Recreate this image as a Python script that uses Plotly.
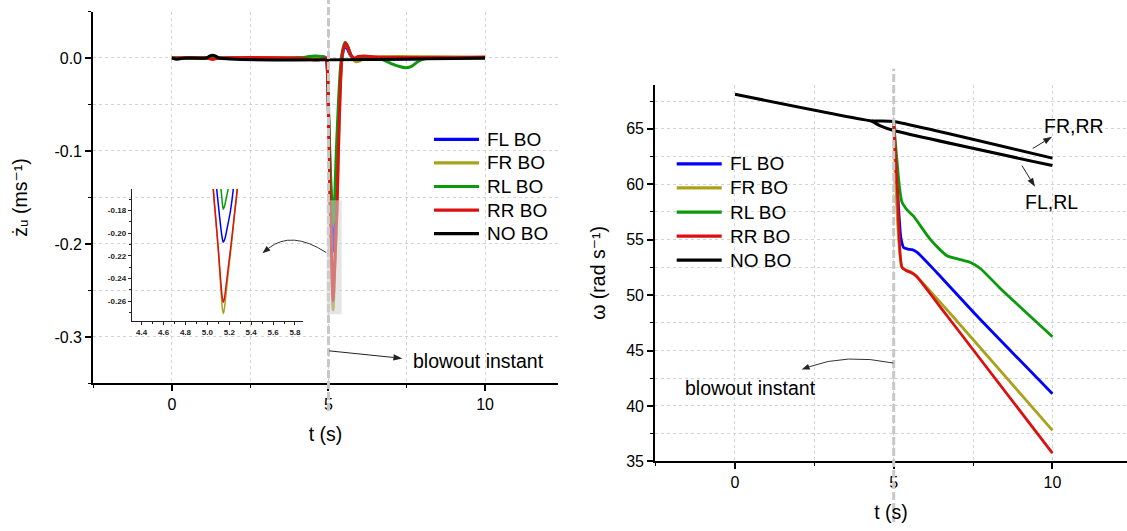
import math
import plotly.graph_objects as go

W, H = 1127, 531

# ---------------- data: left panel (unsprung-mass vertical velocity, m/s) ----------------
t_fl_z = [0, 1.0, 4.0, 4.5, 4.9, 4.95, 5.0, 5.04, 5.085, 5.10, 5.12, 5.135, 5.145, 5.16, 5.18, 5.21, 5.237,
          5.28, 5.33, 5.40, 5.45, 5.53, 5.60, 5.70, 5.80, 6.0, 7.0, 8.0, 8.2, 10]
z_fl = [0, 0, 0, 0.001, 0.0005, -0.005, -0.06, -0.11, -0.161, -0.175, -0.193, -0.204, -0.208, -0.205, -0.196,
        -0.181, -0.161, -0.11, -0.06, -0.012, 0.004, 0.012, 0.010, 0.003, -0.001, -0.001, -0.001, -0.001, 0, 0]

t_fr_z = [0, 4.0, 4.9, 4.95, 5.0, 5.03, 5.054, 5.08, 5.10, 5.12, 5.135, 5.145, 5.155, 5.17, 5.19, 5.22, 5.25,
          5.273, 5.31, 5.36, 5.42, 5.47, 5.55, 5.65, 5.75, 5.88, 6.0, 6.15, 10]
z_fr = [0, 0, 0, -0.004, -0.06, -0.11, -0.161, -0.192, -0.216, -0.245, -0.265, -0.271, -0.267, -0.254, -0.236,
        -0.21, -0.182, -0.161, -0.11, -0.05, -0.003, 0.009, 0.015, 0.009, 0.0, -0.004, -0.003, 0, 0]

t_rl_z = [0, 4.0, 4.3, 4.55, 4.8, 4.92, 4.97, 5.02, 5.06, 5.10, 5.124, 5.135, 5.145, 5.16, 5.175, 5.19, 5.24,
          5.31, 5.38, 5.44, 5.53, 5.62, 5.72, 5.82, 6.0, 6.5, 6.75, 7.0, 7.25, 7.45, 7.65, 7.85, 8.05, 8.3, 10]
z_rl = [0, 0, 0.001, 0.0022, 0.0015, 0.0, -0.02, -0.075, -0.12, -0.15, -0.161, -0.172, -0.179, -0.175, -0.168,
        -0.161, -0.11, -0.054, -0.012, 0.006, 0.017, 0.012, 0.003, -0.001, 0, 0, -0.002, -0.006, -0.009, -0.0105,
        -0.009, -0.004, -0.001, 0, 0]

t_rr_z = [0, 1.1, 1.3, 1.5, 4.0, 4.3, 4.55, 4.8, 4.92, 4.96, 5.0, 5.03, 5.054, 5.08, 5.10, 5.12, 5.135, 5.145,
          5.155, 5.17, 5.19, 5.22, 5.25, 5.273, 5.31, 5.36, 5.42, 5.47, 5.55, 5.63, 5.72, 5.82, 5.95, 6.2, 6.5, 10]
z_rr = [0, 0, -0.0015, 0, 0, -0.001, -0.0022, -0.0015, 0, -0.01, -0.06, -0.11, -0.161, -0.191, -0.214, -0.240,
        -0.256, -0.261, -0.258, -0.247, -0.231, -0.207, -0.181, -0.161, -0.11, -0.05, -0.003, 0.009, 0.016, 0.011,
        0.003, 0.0, 0.0015, 0.002, 0.001, 0.001]

t_no_z = [0, 0.1, 0.2, 0.3, 0.45, 1.1, 1.2, 1.3, 1.4, 1.5, 10]
z_no = [0, -0.0012, -0.0012, -0.0005, 0, 0, 0.002, 0.003, 0.002, 0, 0]

# ---------------- data: right panel (wheel angular speed, rad/s) ----------------
t_fl_w = [5.0, 5.22, 5.27, 5.31, 5.45, 5.58, 5.74, 6.37, 7.58, 10.0]
w_fl = [65.6, 55.3, 54.6, 54.3, 54.15, 54.1, 53.85, 52.0, 48.25, 41.1]

t_fr_w = [5.0, 5.26, 5.4, 5.54, 5.7, 6.81, 10.0]
w_fr = [65.6, 52.55, 52.25, 52.08, 51.75, 48.25, 37.8]

t_rl_w = [5.0, 5.18, 5.26, 5.42, 5.63, 6.16, 6.68, 7.1, 7.42, 7.73, 8.36, 10.0]
w_rl = [65.6, 59.8, 58.4, 57.7, 57.1, 55.0, 53.55, 53.2, 52.95, 52.4, 50.6, 46.25]

t_rr_w = [5.0, 5.12, 5.26, 5.4, 5.54, 5.7, 6.65, 10.0]
w_rr = [65.6, 59.2, 52.5, 52.2, 52.05, 51.75, 48.25, 35.75]

t_no_w_right = [0, 4.3, 4.6, 5.0, 10.0]          # FR,RR wheels without blowout
w_no_right = [68.12, 65.72, 65.72, 65.67, 62.36]
t_no_w_left = [4.3, 4.6, 5.0, 10.0]               # FL,RL wheels without blowout
w_no_left = [65.72, 65.24, 64.85, 61.69]

# ---------------- labels / ticks ----------------
names = ["FL BO", "FR BO", "RL BO", "RR BO", "NO BO"]
x_ticks = [0, 5, 10]
zl_ticks = [-0.3, -0.2, -0.1, 0.0]
zl_text = ["-0.3", "-0.2", "-0.1", "0.0"]
w_ticks = [35, 40, 45, 50, 55, 60, 65]
inset_x_ticks = [4.4, 4.6, 4.8, 5.0, 5.2, 5.4, 5.6, 5.8]
inset_x_text = ["4.4", "4.6", "4.8", "5.0", "5.2", "5.4", "5.6", "5.8"]
inset_y_ticks = [-0.26, -0.24, -0.22, -0.20, -0.18]
inset_y_text = ["-0.26", "-0.24", "-0.22", "-0.20", "-0.18"]
blowout_label = "blowout instant"
side_labels = ["FR,RR", "FL,RL"]
x_title = "t (s)"
left_y_title = "\u017c\u1d64 (ms\u207b\u00b9)"
right_y_title = "\u03c9 (rad s\u207b\u00b9)"

# ---------------- styles / geometry ----------------
COL = {"FL BO": "#0000ff", "FR BO": "#aaa21c", "RL BO": "#0c990c", "RR BO": "#dd1010", "NO BO": "#000000"}
FONT = "Liberation Sans, Arial, DejaVu Sans, sans-serif"
GRID = "#d4d4d4"

L_XDOM, L_YDOM = (93, 558), (390, 11.7)        # pixel box of left panel
R_XDOM, R_YDOM = (655, 1127), (469.3, 86)      # pixel box of right panel
L_XR, L_YR = (-2.52, 12.33), (-0.35, 0.05)
R_XR, R_YR = (-2.52, 12.35), (35, 69)


def px(x):
    return x / W


def py(y):
    return 1 - y / H


def to_px(panel, t, v):
    xd, yd, xr, yr = (L_XDOM, L_YDOM, L_XR, L_YR) if panel == "L" else (R_XDOM, R_YDOM, R_XR, R_YR)
    X = xd[0] + (t - xr[0]) / (xr[1] - xr[0]) * (xd[1] - xd[0])
    Y = yd[0] - (v - yr[0]) / (yr[1] - yr[0]) * (yd[0] - yd[1])
    return X, Y


fig = go.Figure()

left = [("FL BO", t_fl_z, z_fl), ("FR BO", t_fr_z, z_fr), ("RL BO", t_rl_z, z_rl),
        ("RR BO", t_rr_z, z_rr), ("NO BO", t_no_z, z_no)]
for name, t, v in left:
    fig.add_trace(go.Scatter(x=t, y=v, name=name, mode="lines", xaxis="x", yaxis="y", showlegend=False,
                             line=dict(color=COL[name], width=3, shape="spline", smoothing=0.8)))
for name, t, v in left[:4]:
    fig.add_trace(go.Scatter(x=t, y=v, name=name, mode="lines", xaxis="x3", yaxis="y3", showlegend=False,
                             line=dict(color=COL[name], width=1.5, shape="spline", smoothing=0.8)))

fig.add_trace(go.Scatter(x=t_no_w_right, y=w_no_right, name="NO BO", mode="lines", xaxis="x2", yaxis="y2",
                         showlegend=False, line=dict(color="#000000", width=3, shape="spline", smoothing=0.5)))
fig.add_trace(go.Scatter(x=t_no_w_left, y=w_no_left, name="NO BO", mode="lines", xaxis="x2", yaxis="y2",
                         showlegend=False, line=dict(color="#000000", width=3, shape="spline", smoothing=0.5)))
right = [("FL BO", t_fl_w, w_fl), ("FR BO", t_fr_w, w_fr), ("RL BO", t_rl_w, w_rl), ("RR BO", t_rr_w, w_rr)]
for name, t, v in right:
    fig.add_trace(go.Scatter(x=t, y=v, name=name, mode="lines", xaxis="x2", yaxis="y2", showlegend=False,
                             line=dict(color=COL[name], width=2.8, shape="spline", smoothing=0.6)))

axis_common = dict(showline=True, linecolor="black", linewidth=1.6, ticks="outside", ticklen=6, tickwidth=1.5,
                   tickcolor="black", showgrid=True, gridcolor=GRID, griddash="3px,3px", gridwidth=1,
                   zeroline=False, tickfont=dict(size=16, color="black"))
minor_common = dict(ticks="outside", ticklen=3, tickwidth=1.2, tickcolor="black", showgrid=True,
                    gridcolor=GRID, griddash="3px,3px", gridwidth=1)

fig.update_layout(
    width=W, height=H, margin=dict(l=0, r=0, t=0, b=0),
    paper_bgcolor="white", plot_bgcolor="rgba(0,0,0,0)",
    font=dict(family=FONT, color="black"), showlegend=False,
    xaxis=dict(domain=[px(L_XDOM[0]), px(L_XDOM[1])], range=list(L_XR), anchor="y", tickmode="array",
               tickvals=x_ticks, minor=dict(tickmode="linear", tick0=0, dtick=2.5, **minor_common),
               title=dict(text=x_title, font=dict(size=19.5), standoff=15), **axis_common),
    yaxis=dict(domain=[py(L_YDOM[0]), py(L_YDOM[1])], range=list(L_YR), anchor="x", tickmode="array",
               tickvals=zl_ticks, ticktext=zl_text,
               minor=dict(tickmode="linear", tick0=0, dtick=0.05, **minor_common),
               title=dict(text=left_y_title, font=dict(size=19.5), standoff=22), **axis_common),
    xaxis2=dict(domain=[px(R_XDOM[0]), 1.0], range=list(R_XR), anchor="y2", tickmode="array", tickvals=x_ticks,
                minor=dict(tickmode="linear", tick0=0, dtick=2.5, **minor_common),
                title=dict(text=x_title, font=dict(size=19.5), standoff=15), **axis_common),
    yaxis2=dict(domain=[py(R_YDOM[0]), py(R_YDOM[1])], range=list(R_YR), anchor="x2", tickmode="array",
                tickvals=w_ticks, minor=dict(tickmode="linear", tick0=0, dtick=2.5, **minor_common),
                title=dict(text=right_y_title, font=dict(size=19.5), standoff=15), **axis_common),
    xaxis3=dict(domain=[px(131.7), px(303.3)], range=[4.309, 5.876], anchor="y3", showline=True,
                linecolor="#222", linewidth=1, ticks="outside", ticklen=3, tickwidth=1, tickcolor="#222",
                showgrid=False, zeroline=False, tickmode="array", tickvals=inset_x_ticks, ticktext=inset_x_text,
                minor=dict(tickmode="linear", tick0=4.3, dtick=0.1, ticks="outside", ticklen=2, tickcolor="#222",
                           showgrid=False),
                tickfont=dict(size=8, color="#222", weight="bold")),
    yaxis3=dict(domain=[py(326.7), py(192.3)], range=[-0.2777, -0.1612], anchor="x3", showline=True,
                linecolor="#222", linewidth=1, ticks="outside", ticklen=3, tickwidth=1, tickcolor="#222",
                showgrid=False, zeroline=False, tickmode="array", tickvals=inset_y_ticks, ticktext=inset_y_text,
                minor=dict(tickmode="linear", tick0=-0.27, dtick=0.01, ticks="outside", ticklen=2,
                           tickcolor="#222", showgrid=False),
                tickfont=dict(size=8, color="#222", weight="bold")),
)

shapes = [
    dict(type="line", xref="x", yref="paper", x0=5, x1=5, y0=py(418), y1=1.0,
         line=dict(color="#c8c8c8", width=3, dash="8px,3px"), layer="above"),
    dict(type="line", xref="x2", yref="paper", x0=5, x1=5, y0=0.0, y1=py(70),
         line=dict(color="#c8c8c8", width=3, dash="8px,3px"), layer="above"),
    dict(type="rect", xref="x", yref="y", x0=4.94, x1=5.42, y0=-0.2756, y1=-0.1531,
         fillcolor="#cfcfcf", opacity=0.55, line=dict(width=0), layer="above"),
]
annotations = []

# ---- hand-drawn legends (long line samples, tight rows as in the reference) ----
legend_boxes = [
    # (series drawn, line x0, line x1, text x, first row y, row step, font size)
    (names, 434, 479, 485, 141.7, 24.0, 19),
    (names, 676.7, 721.7, 727.5, 166.7, 24.5, 19),
]
for labels, lx0, lx1, tx, y0, step, fs in legend_boxes:
    for i, name in enumerate(labels):
        yy = y0 + i * step
        shapes.append(dict(type="line", xref="paper", yref="paper", x0=px(lx0), x1=px(lx1), y0=py(yy), y1=py(yy),
                           line=dict(color=COL[name], width=3.2)))
        annotations.append(dict(x=px(tx), y=py(yy), xref="paper", yref="paper", text=name, showarrow=False,
                                xanchor="left", yanchor="middle", font=dict(size=fs, color="black", family=FONT)))


def arrow_head(tipX, tipY, dX, dY, length=9, half=3.5):
    n = math.hypot(dX, dY)
    ux, uy = dX / n, dY / n
    bx, by = tipX - ux * length, tipY - uy * length
    nx, ny = -uy, ux
    pts = [(tipX, tipY), (bx + nx * half, by + ny * half), (bx - nx * half, by - ny * half)]
    path = "M " + " L ".join(f"{px(a):.5f},{py(b):.5f}" for a, b in pts) + " Z"
    shapes.append(dict(type="path", xref="paper", yref="paper", path=path, fillcolor="#222",
                       line=dict(width=0)))
    return bx, by


# straight arrows: (panel, tail, tip)
straight_arrows = [
    ("L", (5.02, -0.315), (7.36, -0.3231)),
    ("R", (9.38, 63.23), (9.99, 64.29)),
    ("R", (9.04, 61.69), (9.45, 59.77)),
]
for panel, tail, tip in straight_arrows:
    tX, tY = to_px(panel, *tail)
    hX, hY = to_px(panel, *tip)
    bx, by = arrow_head(hX, hY, hX - tX, hY - tY, length=9, half=3.2)
    shapes.append(dict(type="line", xref="paper", yref="paper", x0=px(tX), y0=py(tY), x1=px(bx), y1=py(by),
                       line=dict(color="#222", width=1)))

# curved arrows: (panel, start, control, tip)
curved_arrows = [
    ("L", (4.93, -0.2093), (3.814, -0.1849), (2.89, -0.2101)),
    ("R", (4.99, 43.87), (3.495, 44.76), (2.10, 43.28)),
]
for panel, s, c, e in curved_arrows:
    sX, sY = to_px(panel, *s)
    cX, cY = to_px(panel, *c)
    eX, eY = to_px(panel, *e)
    bx, by = arrow_head(eX, eY, eX - cX, eY - cY, length=8, half=3.0)
    path = f"M {px(sX):.5f},{py(sY):.5f} Q {px(cX):.5f},{py(cY):.5f} {px(bx):.5f},{py(by):.5f}"
    shapes.append(dict(type="path", xref="paper", yref="paper", path=path, line=dict(color="#333", width=1)))

ann_font = dict(size=19.5, color="black", family=FONT)
text_items = [
    ("x", "y", 7.63, -0.3256, blowout_label),
    ("x2", "y2", -1.64, 41.6, blowout_label),
    ("x2", "y2", 9.67, 65.24, side_labels[0]),
    ("x2", "y2", 9.07, 58.44, side_labels[1]),
]
for xr, yr, x, y, txt in text_items:
    annotations.append(dict(x=x, y=y, xref=xr, yref=yr, text=txt, showarrow=False,
                            xanchor="left", yanchor="middle", font=ann_font))

fig.update_layout(shapes=shapes, annotations=annotations)
fig.write_html("out.html")
